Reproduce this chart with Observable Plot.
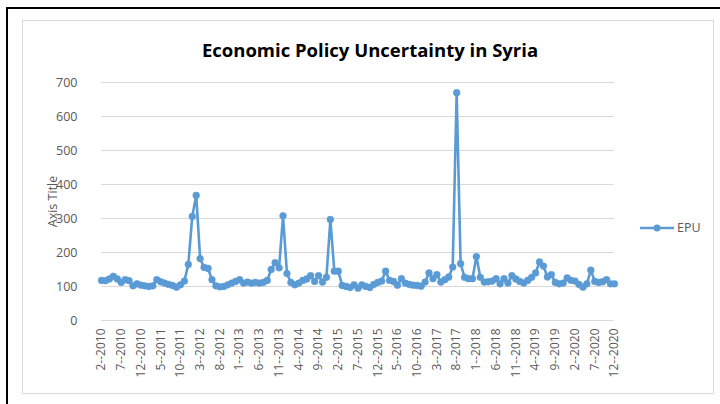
<!DOCTYPE html>
<html>
<head>
<meta charset="utf-8">
<script src="https://cdn.jsdelivr.net/npm/d3@7"></script>
<script src="https://cdn.jsdelivr.net/npm/@observablehq/plot@0.6"></script>
<style>
  html, body { margin: 0; padding: 0; background: #fff; }
  #page { position: relative; width: 720px; height: 404px; overflow: hidden; background: #fff; }
  #outer { position: absolute; left: 6px; top: 7px; width: 720px; height: 404px;
           border-left: 2px solid #000; border-top: 2px solid #000; }
  #frame { position: absolute; left: 22px; top: 20px; width: 690px; height: 372px;
           border: 1px solid #d9d9d9; }
  #title { position: absolute; left: 0; width: 740px; top: 37px; text-align: center;
           font-family: "Open Sans", sans-serif; font-weight: 700; font-size: 18.5px; color: #000; }
  #chart { position: absolute; left: 0; top: 0; }
  #legend { position: absolute; left: 640px; top: 219px; font-family: "Open Sans", sans-serif;
            font-size: 12.5px; color: #595959; display: flex; align-items: center; }
</style>
</head>
<body>
<div id="page">
  <div id="outer"></div>
  <div id="frame"></div>
  <div id="chart"></div>
  <div id="title">Economic Policy Uncertainty in Syria</div>
  <div id="legend"></div>
</div>
<script>
// Monthly EPU index for Syria, February 2010 through December 2020
const startYear = 2010;
const startMonth = 2;
const epu = [
  118, 117, 122, 130, 122, 112, 120, 117, 102, 108, 104, 102, 100, 102, 120, 114, 110, 106, 103, 98,
  105, 116, 165, 306, 368, 182, 156, 153, 120, 102, 99, 100, 105, 110, 115, 120, 110, 113, 110, 112,
  110, 112, 118, 150, 170, 155, 308, 138, 112, 105, 110, 118, 122, 132, 115, 132, 113, 127, 297, 145,
  145, 103, 100, 97, 105, 95, 105, 100, 97, 106, 112, 116, 145, 118, 115, 104, 123, 110, 106, 104,
  103, 101, 113, 140, 123, 135, 113, 120, 128, 157, 670, 167, 127, 123, 123, 188, 127, 113, 114, 116,
  123, 108, 123, 110, 132, 122, 115, 110, 118, 127, 140, 172, 160, 128, 135, 112, 108, 110, 125, 118,
  116, 106, 98, 108, 148, 115, 112, 114, 120, 108, 108
];
const yTicks = [0, 100, 200, 300, 400, 500, 600, 700];
const seriesName = "EPU";
const axisTitle = "Axis Title";

// Category labels in the "month--year" form used on the axis
const months = epu.map((_, i) => {
  const m0 = startMonth - 1 + i;
  return `${(m0 % 12) + 1}--${startYear + Math.floor(m0 / 12)}`;
});
const tickLabels = months.filter((_, i) => i % 5 === 0);
const data = epu.map((v, i) => ({month: months[i], value: v}));

const blue = "#5b9bd5";
const grey = "#595959";

const chart = Plot.plot({
  width: 720,
  height: 404,
  marginLeft: 101,
  marginRight: 106,
  marginTop: 82,
  marginBottom: 84,
  style: {fontFamily: "'Open Sans', sans-serif", background: "transparent", overflow: "visible"},
  x: {type: "point", domain: months, padding: 0},
  y: {domain: [0, 700]},
  marks: [
    Plot.gridY(yTicks, {stroke: "#d9d9d9", strokeOpacity: 1, strokeWidth: 1}),
    Plot.axisY(yTicks, {tickSize: 0, tickPadding: 24, fontSize: 12.5, fill: grey, label: null}),
    Plot.text([axisTitle], {frameAnchor: "left", textAnchor: "middle", dx: -49, rotate: -90,
      fontSize: 12.5, fill: grey}),
    Plot.axisX(tickLabels, {tickSize: 0, tickPadding: 8, tickRotate: -90, fontSize: 12, fill: grey, label: null}),
    Plot.line(data, {x: "month", y: "value", stroke: blue, strokeWidth: 2.6}),
    Plot.dot(data, {x: "month", y: "value", r: 3.4, fill: blue, stroke: blue, strokeWidth: 0.5})
  ]
});
document.getElementById("chart").appendChild(chart);

// Legend entry: line with a circular marker
const legend = document.getElementById("legend");
legend.innerHTML =
  `<svg width="34" height="12" style="margin-right:3px"><line x1="0" x2="34" y1="6" y2="6" stroke="${blue}" stroke-width="2.6"/>` +
  `<circle cx="17" cy="6" r="3.4" fill="${blue}"/></svg><span>${seriesName}</span>`;
</script>
</body>
</html>
